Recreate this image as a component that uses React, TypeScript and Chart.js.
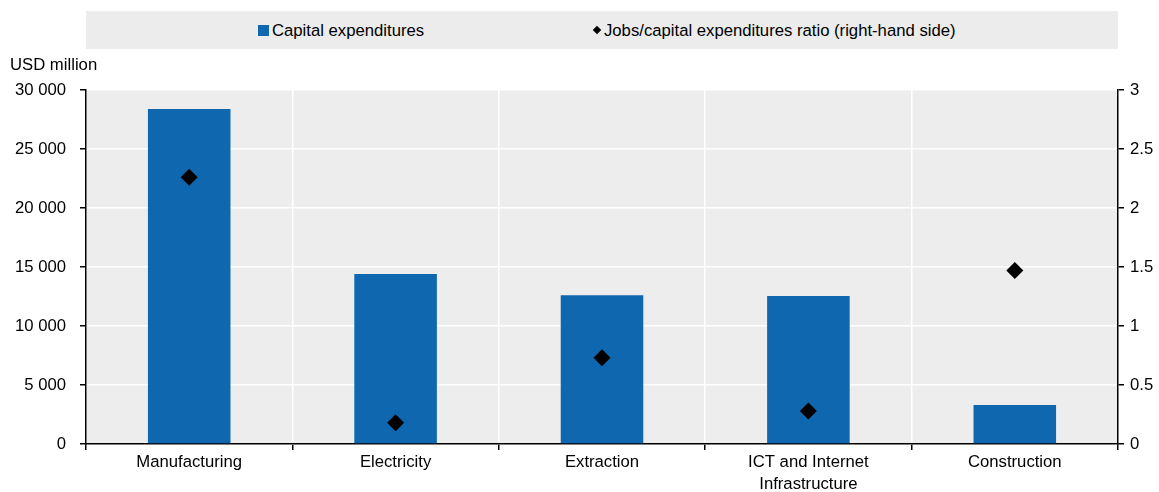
import React, { useEffect, useRef } from "react";
import { Chart, registerables } from "chart.js";

Chart.register(...registerables);

const categories: (string | string[])[] = [
  "Manufacturing",
  "Electricity",
  "Extraction",
  ["ICT and Internet", "Infrastructure"],
  "Construction",
];
const capitalExpenditures = [28400, 14400, 12600, 12550, 3300];
const jobsRatio = [2.26, 0.18, 0.73, 0.28, 1.47];
const leftTicks = [0, 5000, 10000, 15000, 20000, 25000, 30000];
const rightTicks = [0, 0.5, 1, 1.5, 2, 2.5, 3];

const FONT = "'Liberation Sans', Arial, sans-serif";
const FS = 16.7;
const BLUE = "#0F67AF";
const PLOT_BG = "#EDEDED";

const fmt = (v: number) => String(v).replace(/\B(?=(\d{3})+(?!\d))/g, " ");

const plotBg = {
  id: "plotBg",
  beforeDraw(chart: any) {
    const { ctx, chartArea } = chart;
    ctx.save();
    ctx.fillStyle = PLOT_BG;
    ctx.fillRect(chartArea.left, chartArea.top, chartArea.right - chartArea.left, chartArea.bottom - chartArea.top);
    ctx.restore();
  },
};

export default function App() {
  const ref = useRef<HTMLCanvasElement | null>(null);

  useEffect(() => {
    document.body.style.margin = "0";
    document.body.style.overflow = "hidden";
    if (!ref.current) return;
    const chart = new Chart(ref.current, {
      type: "bar",
      data: {
        labels: categories as any,
        datasets: [
          {
            type: "line" as any,
            label: "Jobs/capital expenditures ratio (right-hand side)",
            data: jobsRatio,
            yAxisID: "y1",
            showLine: false,
            pointStyle: "rectRot",
            pointRadius: 8.5,
            pointHoverRadius: 8.5,
            pointBackgroundColor: "#000",
            pointBorderWidth: 0,
            backgroundColor: "#000",
            borderColor: "#000",
            order: 0,
          } as any,
          {
            type: "bar",
            label: "Capital expenditures",
            data: capitalExpenditures,
            yAxisID: "y",
            backgroundColor: BLUE,
            categoryPercentage: 1,
            barPercentage: 0.4,
            order: 1,
          },
        ],
      },
      options: {
        responsive: false,
        animation: false,
        devicePixelRatio: 1,
        layout: { padding: { top: 90, left: 0, right: 0, bottom: 0 } },
        plugins: {
          legend: { display: false },
          tooltip: { enabled: false },
        },
        scales: {
          x: {
            offset: true,
            grid: {
              offset: true,
              color: "#FFFFFF",
              lineWidth: 1.5,
              tickColor: "#000",
              tickLength: 6,
              drawTicks: true,
            },
            border: { color: "#000", width: 1.5 },
            ticks: {
              color: "#000",
              font: { family: FONT, size: FS, lineHeight: 1.3 },
              padding: 2,
              maxRotation: 0,
              autoSkip: false,
            },
            afterFit(scale: any) {
              scale.height = 48;
            },
          },
          y: {
            position: "left",
            min: 0,
            max: 30000,
            afterBuildTicks(scale: any) {
              scale.ticks = leftTicks.map((v) => ({ value: v }));
            },
            grid: {
              color: "#FFFFFF",
              lineWidth: 1.5,
              tickColor: "#000",
              tickLength: 6,
            },
            border: { color: "#000", width: 1.5 },
            ticks: {
              color: "#000",
              font: { family: FONT, size: FS },
              padding: 14,
              callback: (v: any) => fmt(Number(v)),
            },
            afterFit(scale: any) {
              scale.width = 86;
            },
          },
          y1: {
            position: "right",
            min: 0,
            max: 3,
            afterBuildTicks(scale: any) {
              scale.ticks = rightTicks.map((v) => ({ value: v }));
            },
            grid: {
              drawOnChartArea: false,
              tickColor: "#000",
              tickLength: 6,
              lineWidth: 1.5,
            },
            border: { color: "#000", width: 1.5 },
            ticks: {
              color: "#000",
              font: { family: FONT, size: FS },
              padding: 6,
              callback: (v: any) => String(v),
            },
            afterFit(scale: any) {
              scale.width = 41;
            },
          },
        },
      },
      plugins: [plotBg],
    } as any);
    return () => chart.destroy();
  }, []);

  const textStyle: React.CSSProperties = {
    position: "absolute",
    fontFamily: FONT,
    fontSize: FS,
    color: "#000",
    whiteSpace: "nowrap",
    lineHeight: "19px",
  };

  return (
    <div style={{ position: "relative", width: 1159, height: 492, background: "#fff" }}>
      <canvas ref={ref} width={1159} height={492} style={{ position: "absolute", left: 0, top: 0, width: 1159, height: 492 }} />
      <div style={{ position: "absolute", left: 86, top: 11, width: 1032, height: 38, background: "#ECECEC" }} />
      <div style={{ position: "absolute", left: 258, top: 25, width: 11, height: 11, background: BLUE }} />
      <div style={{ ...textStyle, left: 272, top: 21 }}>Capital expenditures</div>
      <div
        style={{
          position: "absolute",
          left: 594,
          top: 27,
          width: 6,
          height: 6,
          background: "#000",
          transform: "rotate(45deg)",
        }}
      />
      <div style={{ ...textStyle, left: 604, top: 21 }}>Jobs/capital expenditures ratio (right-hand side)</div>
      <div style={{ ...textStyle, left: 10, top: 55 }}>USD million</div>
    </div>
  );
}
